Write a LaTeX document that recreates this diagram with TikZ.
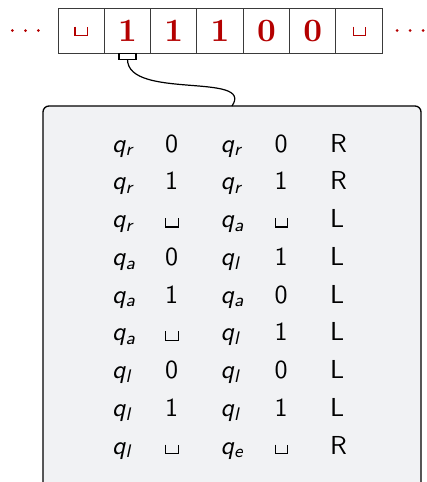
\documentclass[tikz,border=0pt]{standalone}
\usepackage{tikz}
\usepackage{graphicx}
\definecolor{tapered}{HTML}{B40000}
\definecolor{boxfill}{HTML}{F1F2F4}
\definecolor{tapeline}{HTML}{3A3A3A}
% blank symbol, drawn at 10pt scale (scaled by 2.6 where used)
\newcommand\blk{\tikz[baseline=0pt]\draw[line width=0.42pt,line cap=butt] (0pt,3.65pt) -- (0pt,0.2pt) -- (4.8pt,0.2pt) -- (4.8pt,3.65pt);}
\newcommand\qq[1]{{\itshape q\raisebox{-0.15em}{\fontsize{7}{7}\selectfont #1}}}
\newcommand\ent[1]{\scalebox{2.6}{\fontsize{10}{12}\selectfont\sffamily #1}}
\newcommand\tsym[1]{\scalebox{3.26}{\fontsize{10}{12}\selectfont\bfseries #1}}
\tikzset{
  cell/.style={draw=tapeline,line width=0.9pt,fill=white},
  tapesym/.style={anchor=base,text=tapered,inner sep=0pt},
  entry/.style={anchor=base west,inner sep=0pt},
  dot/.style={fill=tapered,circle,inner sep=0pt,minimum size=3pt}
}
\begin{document}
\begin{tikzpicture}[x=1pt,y=-1pt]
\useasboundingbox (0,0) rectangle (426,482);
\begin{scope}
\clip (0,0) rectangle (426,482);
% box
\draw[fill=boxfill,line width=1.3pt,rounded corners=6pt] (43,106) rectangle (421,500);
\coordinate (boxtop) at (232,106);
% tape cells
\foreach \i in {0,...,6} {
  \draw[cell] ({58+\i*46.3},8) rectangle ({58+(\i+1)*46.3},53.3);
}
\node[dot] (d1) at (12.3,30.5) {};
\node[dot] (d2) at (25.5,30.5) {};
\node[dot] (d3) at (38.3,30.5) {};
\node[dot] (d4) at (397,30.5) {};
\node[dot] (d5) at (410,30.5) {};
\node[dot] (d6) at (423,30.5) {};
\node[tapesym] (t0) at (81.2,36) {\color{tapered}\scalebox{2.6}{\blk}};
\node[tapesym] (t1) at (127.5,41.7) {\tsym{1}};
\node[tapesym] (t2) at (173.8,41.7) {\tsym{1}};
\node[tapesym] (t3) at (220.1,41.7) {\tsym{1}};
\node[tapesym] (t4) at (266.4,41.7) {\tsym{0}};
\node[tapesym] (t5) at (312.7,41.7) {\tsym{0}};
\node[tapesym] (t6) at (359.3,36) {\color{tapered}\scalebox{2.6}{\blk}};
% head
\draw[line width=1.1pt,fill=white] (119,53.3) rectangle (136,59.3);
\coordinate (head) at (127.5,59.3);
\draw[line width=1.2pt] (head) .. controls (127.5,100) and (255,72) .. (boxtop);
\end{scope}
% table
\foreach \a/\b/\c/\d/\e [count=\r from 0] in {
  r/0/r/0/R, r/1/r/1/R, r/\blk/a/\blk/L, a/0/l/1/L, a/1/a/0/L,
  a/\blk/l/1/L, l/0/l/0/L, l/1/l/1/L, l/\blk/e/\blk/R} {
  \node[entry] (c1r\r) at (112,{152+\r*37.75}) {\ent{\qq{\a}}};
  \node[entry] (c2r\r) at (165,{152+\r*37.75}) {\ent{\b}};
  \node[entry] (c3r\r) at (220.5,{152+\r*37.75}) {\ent{\qq{\c}}};
  \node[entry] (c4r\r) at (274.5,{152+\r*37.75}) {\ent{\d}};
  \node[entry] (c5r\r) at (330,{152+\r*37.75}) {\ent{\e}};
}
\end{tikzpicture}
\end{document}
